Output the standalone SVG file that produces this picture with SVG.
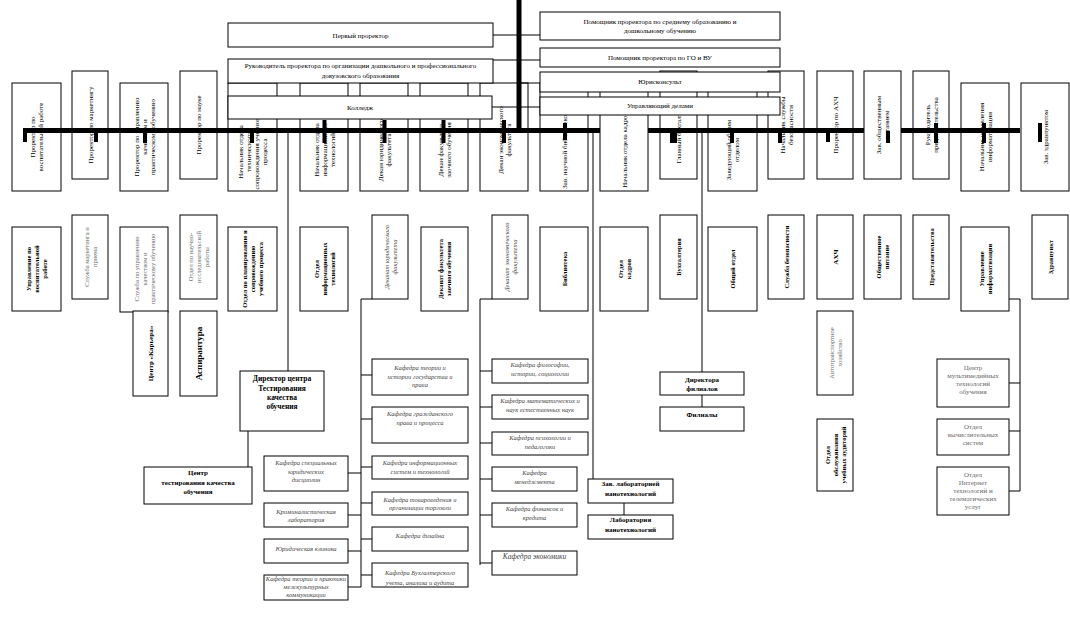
<svg xmlns="http://www.w3.org/2000/svg" width="1070" height="620" viewBox="0 0 1070 620">
<style>
.b{fill:#fff;stroke:#000;stroke-width:1}
.t{font-family:"Liberation Serif",serif;font-size:7px;fill:#000;text-anchor:middle}
.bd{font-weight:bold}
.g{fill:#6b6b6b}
.i{font-style:italic;fill:#444;font-size:6.5px}
.s{font-size:6.5px}
.c{stroke:#000;stroke-width:1;fill:none}
.th{stroke:#000;stroke-width:5;fill:none}
.st{stroke:#000;stroke-width:4;fill:none}
</style>
<rect width="1070" height="620" fill="#fff"/>

<!-- row 1 column boxes -->
<g id="n1"><rect class="b" x="12" y="83" width="49" height="108"/><text class="t" transform="translate(36.5 137) rotate(-90)"><tspan x="0" y="-1.5">Проректор по</tspan><tspan x="0" y="6.5">воспитательной работе</tspan></text></g>
<g id="n2"><rect class="b" x="72" y="71" width="36" height="108"/><text class="t" transform="translate(90 125) rotate(-90)"><tspan x="0" y="2.5">Проректор по маркетингу</tspan></text></g>
<g id="n3"><rect class="b" x="120" y="83" width="48" height="108"/><text class="t" transform="translate(144 137) rotate(-90)"><tspan x="0" y="-5.5">Проректор по управлению</tspan><tspan x="0" y="2.5">качеством и</tspan><tspan x="0" y="10.5">практическому обучению</tspan></text></g>
<g id="n4"><rect class="b" x="180" y="71" width="37" height="108"/><text class="t" transform="translate(198.5 125) rotate(-90)"><tspan x="0" y="2.5">Проректор по науке</tspan></text></g>
<g id="n5"><rect class="b" x="228" y="83" width="49" height="108"/><text class="t" transform="translate(252.5 152) rotate(-90)"><tspan x="0" y="-9.5">Начальник отдела</tspan><tspan x="0" y="-1.5">технического</tspan><tspan x="0" y="6.5">сопровождения учебного</tspan><tspan x="0" y="14.5">процесса</tspan></text></g>
<g id="n6"><rect class="b" x="300" y="83" width="48" height="108"/><text class="t" transform="translate(324 150) rotate(-90)"><tspan x="0" y="-5.5">Начальник отдела</tspan><tspan x="0" y="2.5">информационных</tspan><tspan x="0" y="10.5">технологий</tspan></text></g>
<g id="n7"><rect class="b" x="360" y="83" width="48" height="108"/><text class="t" transform="translate(384 150) rotate(-90)"><tspan x="0" y="-1.5">Декан юридического</tspan><tspan x="0" y="6.5">факультета</tspan></text></g>
<g id="n8"><rect class="b" x="420" y="83" width="48" height="108"/><text class="t" transform="translate(444 150) rotate(-90)"><tspan x="0" y="-1.5">Декан факультета</tspan><tspan x="0" y="6.5">заочного обучения</tspan></text></g>
<g id="n9"><rect class="b" x="480" y="83" width="48" height="108"/><text class="t" transform="translate(504 140) rotate(-90)"><tspan x="0" y="-1.5">Декан экономического</tspan><tspan x="0" y="6.5">факультета</tspan></text></g>
<g id="n10"><rect class="b" x="540" y="83" width="48" height="108"/><text class="t" transform="translate(564 150) rotate(-90)"><tspan x="0" y="2.5">Зав. научной библиотекой</tspan></text></g>
<g id="n11"><rect class="b" x="600" y="83" width="48" height="108"/><text class="t" transform="translate(624 150) rotate(-90)"><tspan x="0" y="2.5">Начальник отдела кадров</tspan></text></g>
<g id="n12"><rect class="b" x="660" y="71" width="37" height="108"/><text class="t" transform="translate(678.5 135) rotate(-90)"><tspan x="0" y="2.5">Главный бухгалтер</tspan></text></g>
<g id="n13"><rect class="b" x="708" y="83" width="49" height="108"/><text class="t" transform="translate(732.5 150) rotate(-90)"><tspan x="0" y="-1.5">Заведующий общим</tspan><tspan x="0" y="6.5">отделом</tspan></text></g>
<g id="n14"><rect class="b" x="768" y="71" width="36" height="108"/><text class="t" transform="translate(786 125) rotate(-90)"><tspan x="0" y="-1.5">Начальник службы</tspan><tspan x="0" y="6.5">безопасности</tspan></text></g>
<g id="n15"><rect class="b" x="817" y="71" width="36" height="108"/><text class="t" transform="translate(835 125) rotate(-90)"><tspan x="0" y="2.5">Проректор по АХЧ</tspan></text></g>
<g id="n16"><rect class="b" x="864" y="71" width="37" height="108"/><text class="t" transform="translate(882.5 125) rotate(-90)"><tspan x="0" y="-1.5">Зав. общественным</tspan><tspan x="0" y="6.5">питанием</tspan></text></g>
<g id="n17"><rect class="b" x="913" y="71" width="36" height="108"/><text class="t" transform="translate(931 125) rotate(-90)"><tspan x="0" y="-1.5">Руководитель</tspan><tspan x="0" y="6.5">представительства</tspan></text></g>
<g id="n18"><rect class="b" x="961" y="83" width="48" height="108"/><text class="t" transform="translate(985 137) rotate(-90)"><tspan x="0" y="-1.5">Начальник управления</tspan><tspan x="0" y="6.5">информатизации</tspan></text></g>
<g id="n19"><rect class="b" x="1021" y="83" width="48" height="108"/><text class="t" transform="translate(1045 137) rotate(-90)"><tspan x="0" y="2.5">Зав. здравпунктом</tspan></text></g>

<!-- top horizontal boxes -->
<g id="h1"><rect class="b" x="228" y="23" width="265" height="24"/><text class="t" x="360.5" y="38">Первый проректор</text></g>
<g id="h2"><rect class="b" x="228" y="59" width="265" height="24"/><text class="t" x="360.5" y="68">Руководитель проректора по организации дошкольного и профессионального</text><text class="t" x="360.5" y="78">довузовского образования</text></g>
<g id="h3"><rect class="b" x="228" y="96" width="264" height="23"/><text class="t" x="360" y="110">Колледж</text></g>
<g id="h4"><rect class="b" x="540" y="12" width="240" height="28"/><text class="t" x="660" y="24">Помощник проректора по среднему образованию и</text><text class="t" x="660" y="33">дошкольному обучению</text></g>
<g id="h5"><rect class="b" x="540" y="48" width="240" height="19"/><text class="t" x="660" y="60">Помощник проректора по ГО и ВУ</text></g>
<g id="h6"><rect class="b" x="540" y="72" width="240" height="20"/><text class="t" x="660" y="84">Юрисконсульт</text></g>
<g id="h7"><rect class="b" x="540" y="97" width="240" height="18"/><text class="t" x="660" y="108">Управляющий делами</text></g>

<!-- connectors -->
<g id="connectors">
<path class="th" d="M519 0V133"/>
<path class="th" d="M23 130.5H600M648 130.5H864M901 130.5H1020"/>
<path class="c" d="M493 35H540M493 60H540M519 83H540M492 107H540"/>
<path class="c" d="M288 133V371M248 431V467"/>
<path class="c" d="M372 299H361V587M361 375H372M361 419H372M361 467H372M361 503H372M361 539H372M361 575H372M348 473H361M348 515H361M348 551H361M348 587H361"/>
<path class="c" d="M492 299H480V565M480 371H492M480 407H492M480 443H492M480 479H492M480 515H492M480 563H492"/>
<path class="c" d="M593 133V479M624 503V515M702 133V372M702 395V407"/>
<path class="c" d="M1009 299H1020V491M1009 383H1020M1009 431H1020M1009 491H1020"/>
<path class="st" d="M25 131V142M96 133V142M145 131V143M252 131V143M324.5 120V143M384.5 120V143M443.5 120V143M504 120V143M565 123V140M732 131V143M780 131V143M828 131V142M888 131V143M936 123V143M984 123V143M1040 123V142"/>
<path d="M673.5 131V143" stroke="#000" stroke-width="7"/>
</g>

<!-- row 2 -->
<g id="r1"><rect class="b" x="12" y="227" width="49" height="84"/><text class="t bd s" transform="translate(36.5 269) rotate(-90)"><tspan x="0" y="-5.5">Управление по</tspan><tspan x="0" y="2.5">воспитательной</tspan><tspan x="0" y="10.5">работе</tspan></text></g>
<g id="r2"><rect class="b" x="72" y="215" width="36" height="84"/><text class="t g s" transform="translate(90 257) rotate(-90)"><tspan x="0" y="-1.5">Служба маркетинга и</tspan><tspan x="0" y="6.5">приема</tspan></text></g>
<g id="r3"><rect class="b" x="120" y="227" width="48" height="85"/><text class="t g s" transform="translate(144 269) rotate(-90)"><tspan x="0" y="-5.5">Служба по управлению</tspan><tspan x="0" y="2.5">качеством и</tspan><tspan x="0" y="10.5">практическому обучению</tspan></text></g>
<g id="r4"><rect class="b" x="180" y="215" width="37" height="84"/><text class="t g s" transform="translate(198.5 257) rotate(-90)"><tspan x="0" y="-5.5">Отдел по научно-</tspan><tspan x="0" y="2.5">исследовательской</tspan><tspan x="0" y="10.5">работы</tspan></text></g>
<g id="r5"><rect class="b" x="228" y="227" width="49" height="84"/><text class="t bd s" transform="translate(252.5 269) rotate(-90)"><tspan x="0" y="-5.5">Отдел по планированию и</tspan><tspan x="0" y="2.5">сопровождению</tspan><tspan x="0" y="10.5">учебного процесса</tspan></text></g>
<g id="r6"><rect class="b" x="133" y="311" width="35" height="85"/><text class="t bd" transform="translate(150.5 353.5) rotate(-90)"><tspan x="0" y="2.5">Центр «Карьера»</tspan></text></g>
<g id="r7"><rect class="b" x="180" y="311" width="37" height="85"/><text class="t bd" style="font-size:9px" transform="translate(198.5 353.5) rotate(-90)"><tspan x="0" y="3">Аспирантура</tspan></text></g>
<g id="r8"><rect class="b" x="300" y="227" width="48" height="84"/><text class="t bd s" transform="translate(324 269) rotate(-90)"><tspan x="0" y="-5.5">Отдел</tspan><tspan x="0" y="2.5">информационных</tspan><tspan x="0" y="10.5">технологий</tspan></text></g>
<g id="r9"><rect class="b" x="372" y="215" width="36" height="84"/><text class="t g i" transform="translate(390 257) rotate(-90)"><tspan x="0" y="-1.5">Деканат юридического</tspan><tspan x="0" y="6.5">факультета</tspan></text></g>
<g id="r10"><rect class="b" x="421" y="227" width="47" height="84"/><text class="t bd s" transform="translate(444.5 269) rotate(-90)"><tspan x="0" y="-1.5">Деканат факультета</tspan><tspan x="0" y="6.5">заочного обучения</tspan></text></g>
<g id="r11"><rect class="b" x="492" y="215" width="36" height="84"/><text class="t g i" transform="translate(510 257) rotate(-90)"><tspan x="0" y="-1.5">Деканат экономического</tspan><tspan x="0" y="6.5">факультета</tspan></text></g>
<g id="r12"><rect class="b" x="540" y="227" width="48" height="84"/><text class="t bd s" transform="translate(564 269) rotate(-90)"><tspan x="0" y="2.5">Библиотека</tspan></text></g>
<g id="r13"><rect class="b" x="600" y="227" width="48" height="84"/><text class="t bd s" transform="translate(624 269) rotate(-90)"><tspan x="0" y="-1.5">Отдел</tspan><tspan x="0" y="6.5">кадров</tspan></text></g>
<g id="r14"><rect class="b" x="660" y="215" width="37" height="84"/><text class="t bd s" transform="translate(678.5 257) rotate(-90)"><tspan x="0" y="2.5">Бухгалтерия</tspan></text></g>
<g id="r15"><rect class="b" x="708" y="227" width="49" height="84"/><text class="t bd s" transform="translate(732.5 269) rotate(-90)"><tspan x="0" y="2.5">Общий отдел</tspan></text></g>
<g id="r16"><rect class="b" x="768" y="215" width="36" height="84"/><text class="t bd s" transform="translate(786 257) rotate(-90)"><tspan x="0" y="2.5">Служба безопасности</tspan></text></g>
<g id="r17"><rect class="b" x="817" y="215" width="36" height="84"/><text class="t bd" transform="translate(835 257) rotate(-90)"><tspan x="0" y="2.5">АХЧ</tspan></text></g>
<g id="r18"><rect class="b" x="864" y="215" width="37" height="84"/><text class="t bd s" transform="translate(882.5 257) rotate(-90)"><tspan x="0" y="-1.5">Общественное</tspan><tspan x="0" y="6.5">питание</tspan></text></g>
<g id="r19"><rect class="b" x="913" y="215" width="36" height="84"/><text class="t bd s" transform="translate(931 257) rotate(-90)"><tspan x="0" y="2.5">Представительства</tspan></text></g>
<g id="r20"><rect class="b" x="961" y="227" width="48" height="84"/><text class="t bd s" transform="translate(985 269) rotate(-90)"><tspan x="0" y="-1.5">Управление</tspan><tspan x="0" y="6.5">информатизации</tspan></text></g>
<g id="r21"><rect class="b" x="1032" y="215" width="36" height="84"/><text class="t bd s" transform="translate(1050 257) rotate(-90)"><tspan x="0" y="2.5">Здравпункт</tspan></text></g>
<g id="r22"><rect class="b" x="817" y="311" width="36" height="84"/><text class="t g s" transform="translate(835 353) rotate(-90)"><tspan x="0" y="-1.5">Автотранспортное</tspan><tspan x="0" y="6.5">хозяйство</tspan></text></g>
<g id="r23"><rect class="b" x="817" y="419" width="36" height="72"/><text class="t bd s" transform="translate(835 455) rotate(-90)"><tspan x="0" y="-5.5">Отдел</tspan><tspan x="0" y="2.5">обслуживания</tspan><tspan x="0" y="10.5">учебных аудиторий</tspan></text></g>

<!-- testing centre -->
<g id="d1"><rect class="b" x="240" y="371" width="84" height="60"/><text class="t bd" style="font-size:7.5px" x="282" y="381">Директор центра</text><text class="t bd" style="font-size:7.5px" x="282" y="391">Тестирования</text><text class="t bd" style="font-size:7.5px" x="282" y="400">качества</text><text class="t bd" style="font-size:7.5px" x="282" y="409">обучения</text></g>
<g id="d2"><rect class="b" x="144" y="467" width="108" height="37"/><text class="t bd" x="198" y="475">Центр</text><text class="t bd" x="198" y="485">тестирования качества</text><text class="t bd" x="198" y="494">обучения</text></g>

<!-- legal faculty departments -->
<g id="k1"><rect class="b" x="372" y="359" width="96" height="36"/><text class="t i" x="420" y="370">Кафедра теории и</text><text class="t i" x="420" y="379">истории государства и</text><text class="t i" x="420" y="387">права</text></g>
<g id="k2"><rect class="b" x="372" y="407" width="96" height="36"/><text class="t i" x="420" y="416">Кафедра гражданского</text><text class="t i" x="420" y="425">права и процесса</text></g>
<g id="k3"><rect class="b" x="372" y="456" width="96" height="23"/><text class="t i" x="420" y="465">Кафедра информационных</text><text class="t i" x="420" y="474">систем и технологий</text></g>
<g id="k4"><rect class="b" x="372" y="492" width="96" height="23"/><text class="t i" x="420" y="502">Кафедра товароведения и</text><text class="t i" x="420" y="510">организации торговли</text></g>
<g id="k5"><rect class="b" x="372" y="527" width="96" height="24"/><text class="t i" x="420" y="538">Кафедра дизайна</text></g>
<g id="k6"><rect class="b" x="372" y="563" width="96" height="24"/><text class="t i" x="420" y="575">Кафедра Бухгалтерского</text><text class="t i" x="420" y="585">учета, анализа и аудита</text></g>
<g id="k7"><rect class="b" x="264" y="456" width="84" height="35"/><text class="t i" x="306" y="465">Кафедра специальных</text><text class="t i" x="306" y="474">юридических</text><text class="t i" x="306" y="482">дисциплин</text></g>
<g id="k8"><rect class="b" x="264" y="503" width="84" height="24"/><text class="t i" x="306" y="514">Криминалистическая</text><text class="t i" x="306" y="522">лаборатория</text></g>
<g id="k9"><rect class="b" x="264" y="539" width="84" height="24"/><text class="t i" x="306" y="551">Юридическая клиника</text></g>
<g id="k10"><rect class="b" x="264" y="575" width="84" height="25"/><text class="t i" x="306" y="581">Кафедра теории и практики</text><text class="t i" x="306" y="589">межкультурных</text><text class="t i" x="306" y="597">коммуникации</text></g>

<!-- economic faculty departments -->
<g id="e1"><rect class="b" x="492" y="359" width="96" height="24"/><text class="t i" x="540" y="367">Кафедра философии,</text><text class="t i" x="540" y="376">истории, социологии</text></g>
<g id="e2"><rect class="b" x="492" y="395" width="96" height="24"/><text class="t i" x="540" y="403">Кафедра математических и</text><text class="t i" x="540" y="412">наук естественных наук</text></g>
<g id="e3"><rect class="b" x="492" y="432" width="96" height="23"/><text class="t i" x="540" y="440">Кафедра психологии и</text><text class="t i" x="540" y="449">педагогики</text></g>
<g id="e4"><rect class="b" x="492" y="467" width="85" height="24"/><text class="t i" x="534.5" y="475">Кафедра</text><text class="t i" x="534.5" y="484">менеджмента</text></g>
<g id="e5"><rect class="b" x="492" y="503" width="85" height="24"/><text class="t i" x="534.5" y="511">Кафедра финансов и</text><text class="t i" x="534.5" y="520">кредита</text></g>
<g id="e6"><rect class="b" x="492" y="551" width="85" height="24"/><text class="t i" style="font-size:7.5px" x="534.5" y="559">Кафедра экономики</text></g>

<!-- nanotech, branches -->
<g id="l1"><rect class="b" x="588" y="479" width="85" height="24"/><text class="t bd" x="630.5" y="486">Зав. лабораторией</text><text class="t bd" x="630.5" y="496">нанотехнологий</text></g>
<g id="l2"><rect class="b" x="588" y="515" width="85" height="24"/><text class="t bd" x="630.5" y="522">Лаборатория</text><text class="t bd" x="630.5" y="532">нанотехнологий</text></g>
<g id="f1"><rect class="b" x="660" y="372" width="84" height="23"/><text class="t bd" x="702" y="382">Директора</text><text class="t bd" x="702" y="391">филиалов</text></g>
<g id="f2"><rect class="b" x="660" y="407" width="84" height="24"/><text class="t bd" x="702" y="417">Филиалы</text></g>

<!-- informatization -->
<g id="m1"><rect class="b" x="937" y="359" width="72" height="48"/><text class="t g" x="973" y="370">Центр</text><text class="t g" x="973" y="378">мультимедийных</text><text class="t g" x="973" y="386">технологий</text><text class="t g" x="973" y="394">обучения</text></g>
<g id="m2"><rect class="b" x="937" y="419" width="72" height="36"/><text class="t g" x="973" y="429">Отдел</text><text class="t g" x="973" y="437">вычислительных</text><text class="t g" x="973" y="445">систем</text></g>
<g id="m3"><rect class="b" x="937" y="467" width="72" height="48"/><text class="t g" x="973" y="477">Отдел</text><text class="t g" x="973" y="485">Интернет</text><text class="t g" x="973" y="493">технологий и</text><text class="t g" x="973" y="501">телематических</text><text class="t g" x="973" y="509">услуг</text></g>
</svg>
